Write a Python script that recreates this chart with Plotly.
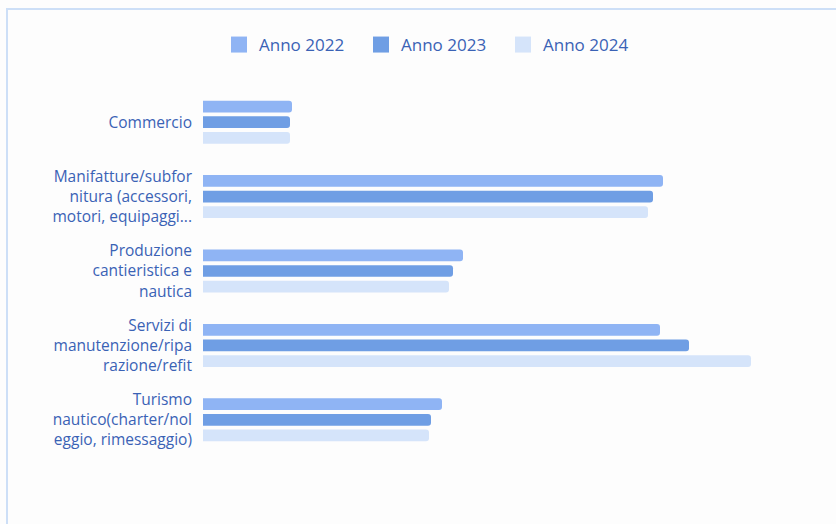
import plotly.graph_objects as go

categories = [
    "Commercio",
    "Manifatture/subfor<br>nitura (accessori,<br>motori, equipaggi...",
    "Produzione<br>cantieristica e<br>nautica",
    "Servizi di<br>manutenzione/ripa<br>razione/refit",
    "Turismo<br>nautico(charter/nol<br>eggio, rimessaggio)",
]
series_names = ["Anno 2022", "Anno 2023", "Anno 2024"]
values_2022 = [8.9, 46.0, 26.0, 45.7, 23.9]
values_2023 = [8.7, 45.0, 25.0, 48.6, 22.8]
values_2024 = [8.7, 44.5, 24.6, 54.8, 22.6]
colors = ["#8fb4f4", "#6f9ee4", "#d5e4fa"]
text_color = "#3a62b5"

W, H = 836, 524
ml, mr, mt, mb = 203, 33, 85, 67
pw, ph = W - ml - mr, H - mt - mb

fig = go.Figure()
for name, vals, col in zip(series_names, [values_2022, values_2023, values_2024], colors):
    fig.add_trace(go.Bar(
        y=categories, x=vals, name=name, orientation="h",
        marker=dict(color=col, line=dict(width=0), cornerradius=3),
        hoverinfo="x+name", showlegend=False,
    ))
# legend entries with larger square swatches
for name, col in zip(series_names, colors):
    fig.add_trace(go.Scatter(
        x=[None], y=[None], mode="markers", name=name,
        marker=dict(symbol="square", size=17, color=col),
    ))

# light frame around the chart (left and top edges visible)
fig.add_shape(
    type="rect", xref="paper", yref="paper", layer="below",
    x0=(7 - ml) / pw, x1=(W + 10 - ml) / pw,
    y0=(H - mb - (H + 10)) / ph, y1=(H - mb - 9) / ph,
    line=dict(color="#cddff7", width=2), fillcolor="rgba(0,0,0,0)",
)

fig.update_layout(
    width=W, height=H,
    margin=dict(l=ml, r=mr, t=mt, b=mb),
    paper_bgcolor="#fdfdfd", plot_bgcolor="#fdfdfd",
    barmode="group", bargap=0.37, bargroupgap=0.25,
    font=dict(family="Open Sans", size=15.5, color=text_color),
    legend=dict(
        orientation="h", x=(432 - ml) / pw, xanchor="center",
        y=(H - mb - 45) / ph, yanchor="middle",
        font=dict(size=17, color=text_color),
        entrywidth=97, entrywidthmode="pixels",
        traceorder="normal",
    ),
    xaxis=dict(range=[0, 60], showgrid=False, zeroline=False, showticklabels=False,
               showline=False, ticks=""),
    yaxis=dict(autorange="reversed", showgrid=False, zeroline=False, showline=False,
               ticks="", ticklabelstandoff=10,
               tickfont=dict(family="Open Sans", size=15.5, color=text_color)),
    showlegend=True,
)

fig.write_html("out.html")
